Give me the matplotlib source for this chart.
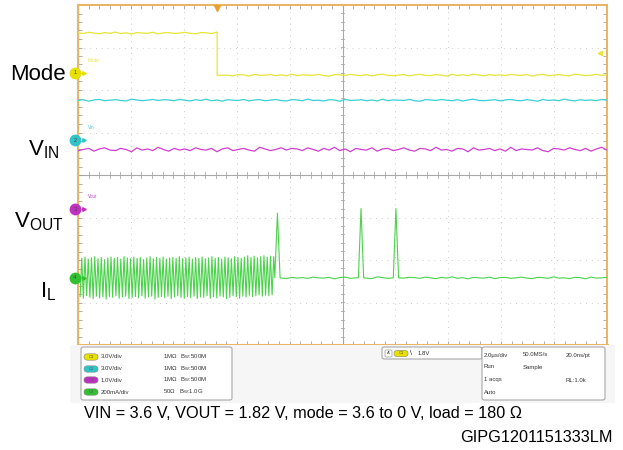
import matplotlib
matplotlib.use("Agg")
import matplotlib.pyplot as plt
from matplotlib.patches import FancyBboxPatch, Rectangle
from matplotlib.ticker import MultipleLocator, NullFormatter
import numpy as np

plt.rcParams['font.family'] = ['Liberation Sans', 'DejaVu Sans']
plt.rcParams['mathtext.fontset'] = 'custom'
plt.rcParams['mathtext.rm'] = 'Liberation Sans'

W, H = 623, 450

#----------- data, in scope divisions (x 0..10, y -4..4) -----------
mode_edge = 2.63
mode_high = 3.34
mode_low = 2.35
vin_level = 1.76
vout_level = 0.60
il_level = -2.42
il_osc_start, il_osc_end = 0.04, 3.70
il_peaks = [-1.96, -1.93, -1.98, -1.95, -1.92, -1.97, -1.94, -1.99, -1.95, -1.93,
            -1.96, -1.94, -1.98, -1.92, -1.95, -1.97, -1.93, -1.96, -1.94, -1.99,
            -1.95, -1.92, -1.97, -1.94, -1.96, -1.93, -1.98, -1.95, -1.94, -1.96,
            -1.92, -1.97, -1.95, -1.93, -1.98, -1.94, -1.96, -1.93, -1.97, -1.95,
            -1.92, -1.96, -1.94, -1.98, -1.93, -1.95, -1.97, -1.92, -1.94, -1.96,
            -1.93, -1.90, -1.94, -1.91, -1.95, -1.92, -1.90, -1.93, -1.91, -1.92]
il_troughs = [-2.86, -2.90, -2.84, -2.88, -2.91, -2.85, -2.89, -2.87, -2.92, -2.86,
              -2.88, -2.84, -2.90, -2.87, -2.85, -2.91, -2.88, -2.86, -2.89, -2.84,
              -2.90, -2.87, -2.85, -2.92, -2.88, -2.86, -2.89, -2.85, -2.91, -2.87,
              -2.84, -2.88, -2.90, -2.86, -2.89, -2.85, -2.91, -2.87, -2.88, -2.84,
              -2.90, -2.86, -2.89, -2.85, -2.87, -2.91, -2.88, -2.84, -2.86, -2.90,
              -2.85, -2.87, -2.83, -2.86, -2.84, -2.82, -2.85, -2.83, -2.84, -2.82]
spike_x = [3.77, 5.35, 6.01]
spike_top = [-0.90, -0.79, -0.79]
noise = [0.01, -0.02, 0.03, 0.00, -0.03, 0.02, -0.01, 0.04, -0.02, 0.01,
         -0.04, 0.02, 0.00, -0.01, 0.03, -0.03, 0.01, 0.02, -0.02, 0.00,
         0.03, -0.01, -0.03, 0.02, 0.01, -0.02, 0.04, -0.01, 0.00, -0.03,
         0.02, 0.01, -0.04, 0.03, -0.01, 0.00, 0.02, -0.02, 0.01, -0.03,
         0.04, -0.02, 0.01, 0.00, -0.01, 0.03, -0.02, -0.04, 0.02, 0.01,
         -0.01, 0.03, 0.00, -0.02, 0.02, -0.03, 0.01, 0.04, -0.01, -0.02,
         0.00, 0.02, -0.03, 0.01, 0.03, -0.01, -0.02, 0.02, 0.00, -0.04,
         0.03, -0.01, 0.01, -0.02, 0.04, 0.00, -0.03, 0.02, -0.01, 0.01,
         -0.02, 0.03, 0.00, -0.01, 0.02, -0.04, 0.01, 0.03, -0.02, 0.00,
         0.02, -0.01, -0.03, 0.04, 0.01, -0.02, 0.00, 0.03, -0.01, 0.02]

ch_ref = [2.40, 0.82, -0.81, -2.42]
ch_tags = ["Mode", "Vin", "Vout"]
ch_scale = ["3.0V/div", "3.0V/div", "1.0V/div", "200mA/div"]
ch_imp = ["1MΩ", "1MΩ", "1MΩ", "50Ω"]
ch_bw = ["500M", "500M", "500M", "1.0G"]
trig_level = 2.87
trig_text = "1.8V"
timebase = [["2.0µs/div", "50.0MS/s", "20.0ns/pt"], ["Run", "Sample", ""],
            ["1 acqs", "", "RL:1.0k"], ["Auto", "", ""]]

trace_col = ['#e8e43a', '#3ccfd8', '#d03fd0', '#4cd24c']
dot_col = ['#e8e000', '#30c4c8', '#c030c0', '#30c030']
noise_amp = [0.6, 0.6, 1.3, 0.6]

#----------- figure -----------
fig = plt.figure(figsize=(W / 100, H / 100), dpi=100)

def fx(x):
    return x / W

def fy(y):
    return 1 - y / H

# light band behind the info boxes
fig.patches.append(Rectangle((fx(70), fy(403)), 545 / W, 58 / H, transform=fig.transFigure,
                             fc='#f6f6f6', ec='none', zorder=0))

ax = fig.add_axes([fx(78), fy(345), 529 / W, 340 / H])
ax.set_xlim(0, 10)
ax.set_ylim(-4, 4)
for s in ax.spines.values():
    s.set_color('#eab565')
    s.set_linewidth(1.5)
ax.spines['bottom'].set_linewidth(2.2)
ax.xaxis.set_major_locator(MultipleLocator(1))
ax.yaxis.set_major_locator(MultipleLocator(1))
ax.xaxis.set_minor_locator(MultipleLocator(0.2))
ax.yaxis.set_minor_locator(MultipleLocator(0.2))
ax.xaxis.set_major_formatter(NullFormatter())
ax.yaxis.set_major_formatter(NullFormatter())
ax.tick_params(which='both', direction='in', top=True, right=True, length=3,
               color='#a0a0a0', width=0.6)

# grid
for v in range(1, 10):
    if v != 5:
        ax.axvline(v, color='#cccccc', lw=0.7, ls=(0, (1, 5)), zorder=1)
for v in range(-3, 4):
    if v != 0:
        ax.axhline(v, color='#cccccc', lw=0.7, ls=(0, (1, 5)), zorder=1)
ax.axvline(5, color='#a8a8a8', lw=0.8, zorder=1)
ax.axhline(0, color='#a8a8a8', lw=0.8, zorder=1)
for v in np.arange(0.2, 10, 0.2):
    ax.plot([v, v], [-0.06, 0.06], color='#a8a8a8', lw=0.6, zorder=1)
for v in np.arange(-3.8, 4, 0.2):
    ax.plot([4.97, 5.03], [v, v], color='#a8a8a8', lw=0.6, zorder=1)

# traces
t = np.linspace(0, 10, len(noise))
nz = np.array(noise)
left = t < mode_edge
mn = noise_amp[0] * nz
mx = list(t[left]) + [mode_edge, mode_edge] + list(t[~left])
my = list(mode_high + mn[left]) + [mode_high, mode_low] + list(mode_low + mn[~left])
ax.plot(mx, my, color=trace_col[0], lw=0.9, zorder=3)
ax.plot(t, vin_level + noise_amp[1] * np.roll(nz, 17), color=trace_col[1], lw=0.9, zorder=3)
ax.plot(t, vout_level + noise_amp[2] * np.roll(nz, 41), color=trace_col[2], lw=0.9, zorder=3)

ox = np.linspace(il_osc_start, il_osc_end, 2 * len(il_peaks))
oy = [v for pair in zip(il_troughs, il_peaks) for v in pair]
pts = [(x, il_level + noise_amp[3] * n) for x, n in zip(t, np.roll(nz, 63))
       if x > 3.86 and all(abs(x - s) > 0.08 for s in spike_x)]
for s, top in zip(spike_x, spike_top):
    pts += [(s - 0.05, il_level), (s, top), (s + 0.05, il_level)]
pts.sort()
gx = list(ox) + [p[0] for p in pts]
gy = oy + [p[1] for p in pts]
ax.plot(gx, gy, color=trace_col[3], lw=0.8, zorder=3)

# channel reference markers
for i, r in enumerate(ch_ref):
    ax.plot(-0.06, r, 'o', ms=8.5, color=dot_col[i], mec='none', clip_on=False, zorder=6)
    ax.text(-0.06, r, str(i + 1), fontsize=4, ha='center', va='center', color='#444444',
            clip_on=False, zorder=7)
    ax.plot(0.12, r, '>', ms=2.5, color=dot_col[i], clip_on=False, zorder=6)
for i, tag in enumerate(ch_tags):
    ax.text(0.18, ch_ref[i] + 0.27, tag, fontsize=3.3, color=trace_col[i], zorder=5)

# trigger markers
ax.plot(mode_edge, 3.93, 'v', ms=4.5, color='#e8a030', clip_on=False, zorder=6)
ax.plot(9.86, trig_level, '<', ms=3, color=trace_col[0], clip_on=False, zorder=6)

# big labels on the left
fig.text(fx(66), fy(74), "Mode", fontsize=16, ha='right', va='center')
fig.text(fx(59), fy(150), r"$\mathregular{V_{IN}}$", fontsize=16, ha='right', va='center')
fig.text(fx(64), fy(222), r"$\mathregular{V_{OUT}}$", fontsize=16, ha='right', va='center')
fig.text(fx(56), fy(292), r"$\mathregular{I_{L}}$", fontsize=16, ha='right', va='center')

# info boxes
def rbox(x0, y0, x1, y1, fc='white', ec='#a8a8a8', lw=0.8, r=0.004):
    fig.patches.append(FancyBboxPatch((fx(x0), fy(y1)), (x1 - x0) / W, (y1 - y0) / H,
                                      boxstyle=f"round,pad=0,rounding_size={r}",
                                      transform=fig.transFigure, fc=fc, ec=ec, lw=lw, zorder=2))

def pill(x0, yc, col, label):
    rbox(x0, yc - 3.2, x0 + 14, yc + 3.2, fc=col, ec='#888888', lw=0.4, r=0.006)
    fig.text(fx(x0 + 7), fy(yc), label, fontsize=3, ha='center', va='center', color='#555555')

rbox(81, 347, 232, 400)
rows_y = [357, 369, 380, 392]
for i, y in enumerate(rows_y):
    pill(84, y, dot_col[i], f"C{i + 1}")
    fig.text(fx(101), fy(y), ch_scale[i], fontsize=4.3, va='center', color='#333333')
    fig.text(fx(163), fy(y), ch_imp[i] + "   " + r"$\mathregular{B_W}$:" + ch_bw[i],
             fontsize=4.3, va='center', color='#333333')

rbox(382, 347, 482, 359)
rbox(385, 350, 392, 357, ec='#999999', lw=0.5, r=0.002)
fig.text(fx(388.5), fy(353.5), "A'", fontsize=3, ha='center', va='center', color='#333333')
pill(394, 353.5, dot_col[0], "C1")
fig.text(fx(410), fy(353.5), "\\", fontsize=5, va='center', color='#333333')
fig.text(fx(418), fy(353.5), trig_text, fontsize=4.3, va='center', color='#333333')

rbox(482, 347, 605, 400)
cols_x = [484, 523, 566]
tb_y = [355, 367, 380, 392]
for r, row in enumerate(timebase):
    for c, txt in enumerate(row):
        if txt:
            fig.text(fx(cols_x[c]), fy(tb_y[r]), txt, fontsize=4.3, va='center', color='#333333')

# caption
fig.text(fx(84), fy(413), "VIN = 3.6 V, VOUT = 1.82 V, mode = 3.6 to 0 V, load = 180 Ω",
         fontsize=11.7, va='center')
fig.text(fx(613), fy(437), "GIPG1201151333LM", fontsize=11.7, ha='right', va='center')

fig.savefig("out.png", dpi=100)
